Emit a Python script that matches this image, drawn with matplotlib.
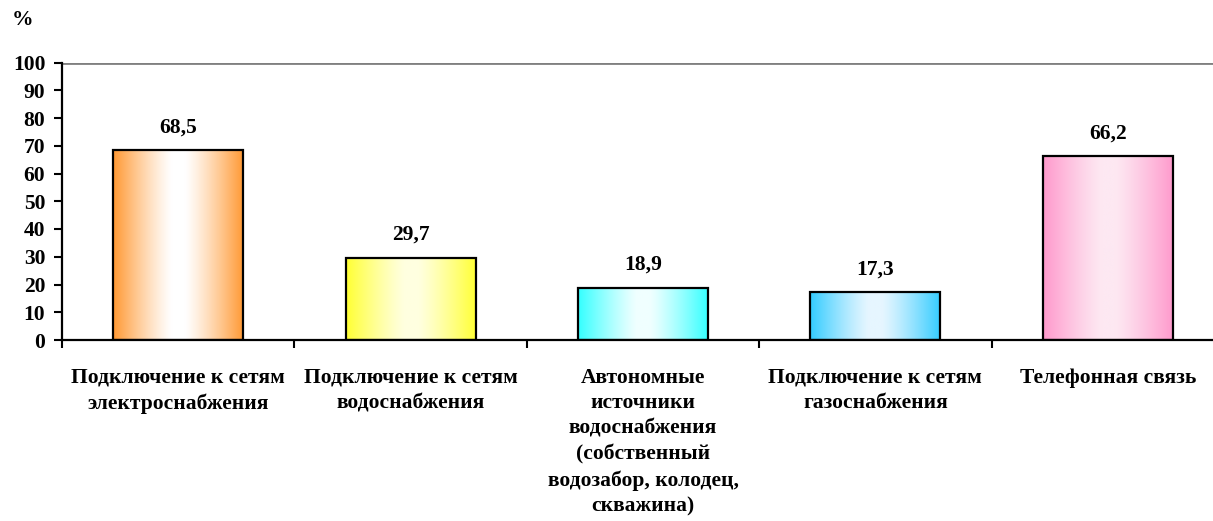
import matplotlib
matplotlib.use("Agg")
import matplotlib.pyplot as plt
import numpy as np
from matplotlib.colors import to_rgb

# Share of households with access to utilities, %
categories = [
    "Подключение к сетям\nэлектроснабжения",
    "Подключение к сетям\nводоснабжения",
    "Автономные\nисточники\nводоснабжения\n(собственный\nводозабор, колодец,\nскважина)",
    "Подключение к сетям\nгазоснабжения",
    "Телефонная связь",
]
values = [68.5, 29.7, 18.9, 17.3, 66.2]

# (edge colour, centre colour) of each bar's horizontal gradient
edge_colors = ["#FF9933", "#FFFF33", "#33FFFF", "#33CCFF", "#FF99CC"]
center_colors = ["#FFFFFF", "#FFFFE0", "#F0FFFF", "#E6F6FF", "#FDE8F2"]

plt.rcParams["font.family"] = ["Liberation Serif", "DejaVu Serif"]
plt.rcParams["font.weight"] = "bold"

FS = 15.5


def gradient_image(edge, center, n=256):
    t = np.linspace(0, 1, n)
    w = np.clip((np.abs(t - 0.5) * 2 - 0.1) / 0.9, 0, 1) ** 1.2
    e = np.array(to_rgb(edge))
    c = np.array(to_rgb(center))
    row = c[None, :] * (1 - w[:, None]) + e[None, :] * w[:, None]
    return row[None, :, :]


fig = plt.figure(figsize=(12.13, 5.21), dpi=100)
ax = fig.add_axes([62 / 1213, 181 / 521, 1162 / 1213, 277.5 / 521])

x = np.arange(len(values))
width = 0.56
bars = ax.bar(x, values, width=width, facecolor="none",
              edgecolor="black", linewidth=1.6, zorder=3)

for bar, ec, cc in zip(bars, edge_colors, center_colors):
    x0, y0 = bar.get_x(), bar.get_y()
    w, h = bar.get_width(), bar.get_height()
    im = ax.imshow(gradient_image(ec, cc), aspect="auto",
                   extent=[x0, x0 + w, y0, y0 + h], zorder=2)
    im.set_clip_path(bar)

for xi, v in zip(x, values):
    ax.annotate(f"{v:.1f}".replace(".", ","), (xi, v),
                xytext=(0, 9), textcoords="offset points",
                ha="center", va="bottom", fontsize=FS,
                fontweight="bold")

ax.set_xlim(-0.5, len(values) - 0.5)
ax.set_ylim(0, 100)
ax.set_yticks(np.arange(0, 101, 10))
ax.axhline(100, color="#808080", linewidth=2, zorder=1)

# category boundaries carry the tick marks, labels sit at the centres
ax.set_xticks(np.arange(-0.5, len(values), 1.0))
ax.set_xticklabels([])
ax.set_xticks(x, categories, minor=True)
ax.tick_params(axis="x", which="minor", length=0, pad=20,
               labelsize=FS)
ax.tick_params(axis="x", which="major", length=6, width=1.5,
               direction="out")
ax.tick_params(axis="y", length=6, width=1.5, labelsize=FS, pad=6)
for lbl in ax.get_xticklabels(minor=True):
    lbl.set_fontweight("bold")
    lbl.set_linespacing(1.37)
    lbl.set_verticalalignment("top")
for lbl in ax.get_yticklabels():
    lbl.set_fontweight("bold")

ax.spines["top"].set_visible(False)
ax.spines["right"].set_visible(False)
ax.spines["left"].set_linewidth(1.6)
ax.spines["bottom"].set_linewidth(1.6)
ax.set_facecolor("white")

fig.text(23 / 1213, 1 - 20 / 521, "%", ha="center", va="center",
         fontsize=FS, fontweight="bold")

fig.savefig("out.png", dpi=100)
